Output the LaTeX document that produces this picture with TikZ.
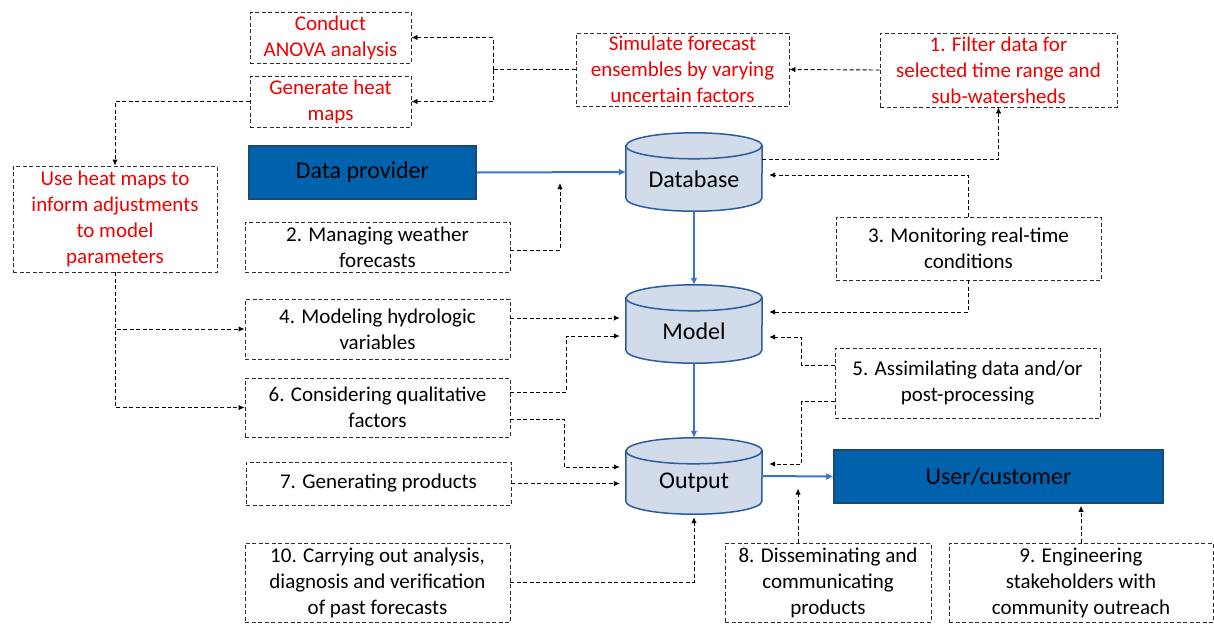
\documentclass[tikz,border=0pt]{standalone}
\usepackage{fontspec}
\setmainfont{Carlito}
\usetikzlibrary{calc,arrows.meta}
\definecolor{dashcol}{RGB}{45,45,45}
\definecolor{redtxt}{RGB}{240,0,0}
\definecolor{provfill}{RGB}{0,98,172}
\definecolor{provborder}{RGB}{28,72,120}
\definecolor{cylfill}{RGB}{210,219,233}
\definecolor{cylborder}{RGB}{44,92,160}
\definecolor{bluearrow}{RGB}{58,115,200}
\newcommand\fs{\fontsize{21}{26}\selectfont}
\newcommand\fb{\fontsize{24}{28}\selectfont}
\newcommand\drawcyl[1]{%
  \path[fill=cylfill,draw=cylborder,line width=1.5pt]
    ($(#1.north west)+(0,13)$) -- ($(#1.south west)+(0,-13)$)
    arc[start angle=180,end angle=360,x radius=68pt,y radius=13pt]
    -- ($(#1.north east)+(0,13)$)
    arc[start angle=0,end angle=180,x radius=68pt,y radius=13pt] -- cycle;
  \draw[draw=cylborder,line width=1.5pt] ($(#1.north west)+(0,13)$)
    arc[start angle=180,end angle=360,x radius=68pt,y radius=13pt];
}
\tikzset{
  dbox/.style={draw=dashcol, dash pattern=on 4pt off 2.5pt, line width=0.9pt,
    align=center, font=\fs, inner sep=0pt, text=black},
  rbox/.style={dbox, text=redtxt},
  provbox/.style={fill=provfill, draw=provborder, line width=1.5pt, font=\fb,
    text=black, inner sep=0pt},
  cylbox/.style={inner sep=0pt, minimum width=136pt, minimum height=78pt},
  cyltext/.style={font=\fb, inner sep=0pt, text=black},
  dline/.style={draw=black, dash pattern=on 4pt off 2.5pt, line width=0.9pt},
  darr/.style={dline, -{Latex[length=6pt,width=5.5pt]}},
  barr/.style={draw=bluearrow, line width=2pt, -{Latex[length=7pt,width=7pt]}},
}
\begin{document}
\begin{tikzpicture}[x=1pt,y=-1pt]
\useasboundingbox[fill=white] (0,0) rectangle (1214,624);

% cylinders
\node[cylbox] (db) at (694,172) {};
\node[cylbox] (model) at (694,324) {};
\node[cylbox, minimum height=76pt] (output) at (694,476) {};
\drawcyl{db}
\drawcyl{model}
\drawcyl{output}
\node[cyltext] (dbt) at (694,179) {Database};
\node[cyltext] (modelt) at (694,331) {Model};
\node[cyltext] (outputt) at (694,483) {Output};

% red boxes
\node[rbox, minimum width=161pt, minimum height=51pt] (conduct) at (330.5,37.5) {Conduct\\ANOVA analysis};
\node[rbox, minimum width=161pt, minimum height=51pt] (generate) at (330.5,101.5) {Generate heat\\maps};
\node[rbox, minimum width=213pt, minimum height=73pt] (simulate) at (682.5,69.5) {Simulate forecast\\ensembles by varying\\uncertain factors};
\node[rbox, minimum width=237pt, minimum height=74pt] (filter) at (998.5,70) {1. Filter data for\\selected time range and\\sub-watersheds};
\node[rbox, minimum width=204pt, minimum height=106pt] (useheat) at (115,219) {Use heat maps to\\inform adjustments\\to model\\parameters};

% blue boxes
\node[provbox, minimum width=227pt, minimum height=53pt] (dataprov) at (362.5,172.5) {Data provider};
\node[provbox, minimum width=329pt, minimum height=53pt] (user) at (998.5,476.5) {User/customer};

% black dashed boxes
\node[dbox, minimum width=265pt, minimum height=50pt] (s2) at (377.5,247) {2. Managing weather\\forecasts};
\node[dbox, minimum width=265pt, minimum height=63pt] (s3) at (968.5,248.5) {3. Monitoring real-time\\conditions};
\node[dbox, minimum width=265pt, minimum height=60pt] (s4) at (377.5,329) {4. Modeling hydrologic\\variables};
\node[dbox, minimum width=265pt, minimum height=70pt] (s5) at (967.5,383) {5. Assimilating data and/or\\post-processing};
\node[dbox, minimum width=265pt, minimum height=59pt] (s6) at (377.5,407.5) {6. Considering qualitative\\factors};
\node[dbox, minimum width=265pt, minimum height=43pt] (s7) at (378.5,483.5) {7. Generating products};
\node[dbox, minimum width=206pt, minimum height=79pt] (s8) at (828,582.5) {8. Disseminating and\\communicating\\products};
\node[dbox, minimum width=264pt, minimum height=79pt] (s9) at (1081,582.5) {9. Engineering\\stakeholders with\\community outreach};
\node[dbox, minimum width=265pt, minimum height=79pt] (s10) at (377.5,582.5) {10. Carrying out analysis,\\diagnosis and verification\\of past forecasts};

% coordinates for free ends
\coordinate (j1) at (493,69.5);
\coordinate (s2end) at (560,183);

% blue arrows
\draw[barr] (dataprov.east) -- (db.west);
\draw[barr] (db.south) -- (model.north);
\draw[barr] (model.south) -- (output.north);
\draw[barr] (output.east) -- (user.west);

% dashed connectors
\draw[darr] (filter.west) -- (simulate.east);
\draw[dline] (simulate.west) -- (j1);
\draw[darr] (j1) |- (conduct.east);
\draw[darr] (j1) |- (generate.east);
\draw[darr] (generate.west) -| (useheat.north);
\draw[darr] (useheat.south) |- (s6.west);
\draw[darr] (useheat.south) |- (s4.west);
\draw[darr] ($(s2.east)+(0,3)$) -| (s2end);
\draw[darr] ($(db.north east)+(0,27)$) -| (filter.south);
\draw[darr] (s3.north) |- ($(db.east)+(7,3)$);
\draw[darr] (s3.south) |- ($(model.east)+(7,-12)$);
\draw[darr] ($(s4.east)+(0,-11)$) -- ($(model.west)+(-6,-6)$);
\draw[darr] ($(s6.east)+(0,-15.5)$) -- ++(56,0) |- ($(model.west)+(-6,12)$);
\draw[darr] ($(s6.east)+(0,11.5)$) -- ++(54,0) |- ($(output.west)+(-6,-9)$);
\draw[darr] (s7.east) -- ($(output.west)+(-6,7.5)$);
\draw[darr] (s10.east) -| ($(output.south)+(0,3)$);
\draw[darr] ($(s5.west)+(0,-18)$) -- ++(-33,0) |- ($(model.east)+(7,13)$);
\draw[darr] ($(s5.west)+(0,18)$) -- ++(-33,0) |- ($(output.east)+(7,-12)$);
\draw[darr] ($(s8.north)+(-30,0)$) -- ++(0,-54);
\draw[darr] (s9.north) -- ($(s9.north |- user.south)+(0,2)$);
\end{tikzpicture}
\end{document}
